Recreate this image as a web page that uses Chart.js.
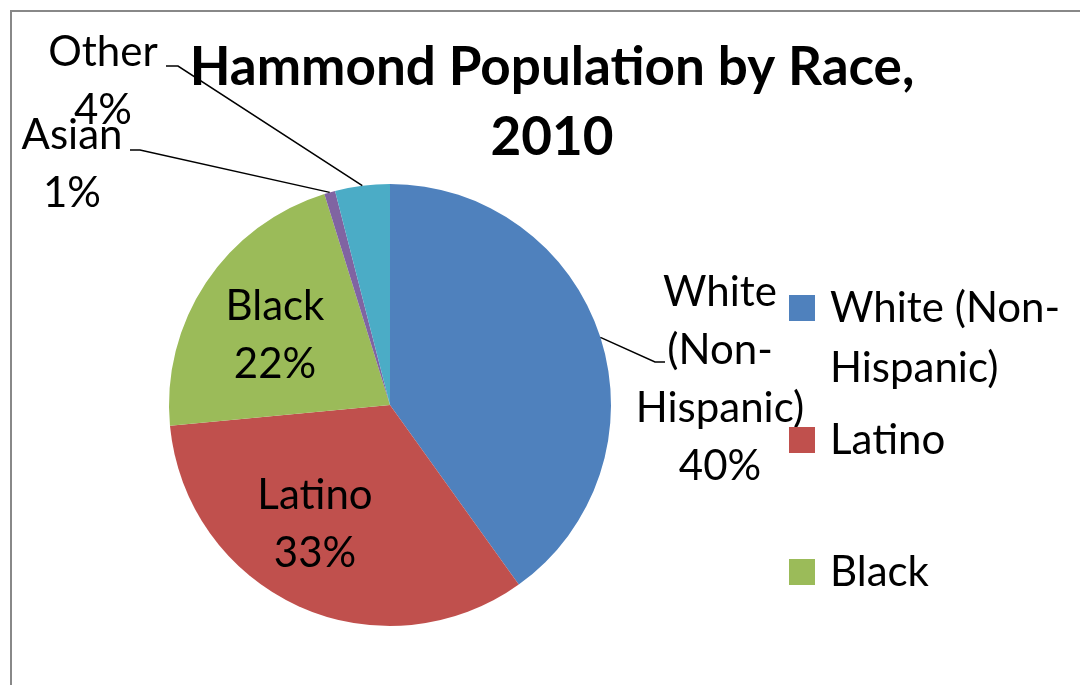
<!DOCTYPE html>
<html>
<head>
<meta charset="utf-8">
<script src="https://cdn.jsdelivr.net/npm/chart.js@4.4.0/dist/chart.umd.min.js"></script>
<style>
  body { margin: 0; background: #fff; }
  #wrap { width: 1080px; height: 685px; }
</style>
</head>
<body>
<div id="wrap"><canvas id="pieChart" width="1080" height="685"></canvas></div>
<script>
// data
const categories = ['White (Non-Hispanic)', 'Latino', 'Black', 'Asian', 'Other'];
const shares = [40.1, 33.4, 21.7, 0.8, 4.0];
const sliceColors = ['#4F81BD', '#C0504D', '#9BBB59', '#8064A2', '#4BACC6'];
const titleLines = ['Hammond Population by Race,', '2010'];
const legendCount = 3; // only first three fit in the legend box

const FONT = 'Lato';

// category name split over lines as the labels wrap
const nameLines = [
    ['White', '(Non-', 'Hispanic)'],
    ['Latino'],
    ['Black'],
    ['Asian'],
    ['Other']
];
// label placement: inside -> offset from pie centre, outside -> x,y of first line + elbow
const labelPlace = [
    { outside: true, x: 720, y: 292, elbow: [655, 362], end: [665, 362] },
    { inside: true, dx: -75, dy: 119 },
    { inside: true, dx: -115, dy: -70 },
    { outside: true, x: 72, y: 135, elbow: [140, 150], end: [130, 150] },
    { outside: true, x: 103, y: 52, elbow: [178, 66], end: [166, 66] }
];

const frameAndText = {
    id: 'frameAndText',
    afterDraw(chart) {
        const ctx = chart.ctx;
        const meta = chart.getDatasetMeta(0);
        ctx.save();

        // chart frame
        ctx.strokeStyle = '#888888';
        ctx.lineWidth = 2;
        ctx.beginPath();
        ctx.moveTo(11, 700);
        ctx.lineTo(11, 11);
        ctx.lineTo(1100, 11);
        ctx.stroke();

        // leader lines + labels
        ctx.fillStyle = '#000';
        ctx.font = '42px ' + FONT;
        ctx.textAlign = 'center';
        ctx.textBaseline = 'middle';
        meta.data.forEach((arc, i) => {
            const p = labelPlace[i];
            const lines = nameLines[i].concat([Math.round(shares[i]) + '%']);
            if (p.inside) {
                const cx = arc.x + p.dx, cy = arc.y + p.dy;
                const top = cy - (lines.length - 1) * 29;
                lines.forEach((t, k) => ctx.fillText(t, cx, top + k * 58));
            } else {
                const mid = (arc.startAngle + arc.endAngle) / 2;
                const ax = arc.x + arc.outerRadius * Math.cos(mid);
                const ay = arc.y + arc.outerRadius * Math.sin(mid);
                ctx.strokeStyle = '#000';
                ctx.lineWidth = 1.5;
                ctx.beginPath();
                ctx.moveTo(ax, ay);
                ctx.lineTo(p.elbow[0], p.elbow[1]);
                ctx.lineTo(p.end[0], p.end[1]);
                ctx.stroke();
                lines.forEach((t, k) => ctx.fillText(t, p.x, p.y + k * 58));
            }
        });

        // title
        ctx.font = 'bold 53px ' + FONT;
        titleLines.forEach((t, k) => ctx.fillText(t, 552, 68 + k * 70));

        // legend
        const legendRows = [[308, 368], [440], [572]];
        ctx.font = '42px ' + FONT;
        ctx.textAlign = 'left';
        const legendText = [['White (Non-', 'Hispanic)'], ['Latino'], ['Black']];
        for (let i = 0; i < legendCount; i++) {
            ctx.fillStyle = sliceColors[i];
            ctx.fillRect(789, legendRows[i][0] - 13, 26, 26);
            ctx.fillStyle = '#000';
            legendText[i].forEach((t, k) => ctx.fillText(t, 830, legendRows[i][k]));
        }
        ctx.restore();
    }
};

const ctx = document.getElementById('pieChart').getContext('2d');
const pieChart = new Chart(ctx, {
    type: 'pie',
    plugins: [frameAndText],
    data: {
        labels: categories,
        datasets: [{
            data: shares,
            backgroundColor: sliceColors,
            borderWidth: 0
        }]
    },
    options: {
        responsive: false,
        animation: false,
        layout: {
            padding: { left: 169, right: 469, top: 184, bottom: 59 }
        },
        plugins: {
            legend: { display: false },
            title: { display: false },
            tooltip: { enabled: false }
        }
    }
});
</script>
</body>
</html>
